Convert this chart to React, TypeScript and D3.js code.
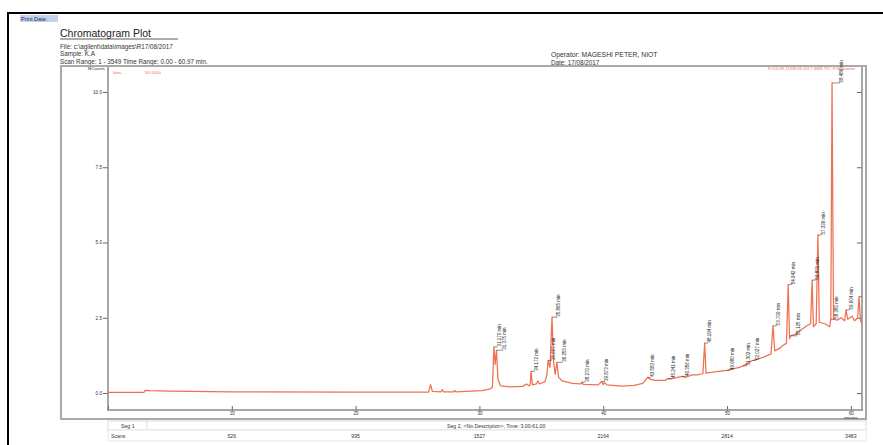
import React, {useEffect, useRef} from 'react'
import * as d3 from 'd3'

// TIC trace, time in minutes / intensity in MCounts
const traceTimes = [
  0, 2.9, 3.0, 3.4, 5, 10, 20, 25.9, 26.05, 26.2, 26.9, 27.0, 27.1, 27.9, 28.0,
  28.1, 30.2, 30.9, 31.05, 31.17, 31.27, 31.375, 31.5, 31.7, 32.5, 33.5, 33.8,
  34.0, 34.1, 34.17, 34.28, 34.6, 34.72, 34.85, 35.3, 35.45, 35.55, 35.7, 35.86,
  36.0, 36.12, 36.25, 36.4, 36.7, 37.5, 38.2, 38.27, 38.4, 39.6, 39.87, 40.0,
  40.1, 40.3, 41.5, 42.5, 43.2, 43.58, 43.8, 44.2, 45.0, 45.24, 45.5, 46.36,
  46.6, 47.2, 47.6, 48.05, 48.19, 48.3, 49.0, 49.98, 50.2, 51.0, 51.3, 52.03,
  52.3, 53.0, 53.55, 53.71, 53.85, 54.3, 54.5, 54.8, 54.94, 55.05, 55.13, 55.5,
  56.0, 56.5, 56.75, 56.87, 56.98, 57.2, 57.34, 57.45, 57.9, 58.1, 58.3, 58.38,
  58.48, 58.6, 58.9, 59.2, 59.5, 59.61, 59.75, 60.1, 60.3, 60.55, 60.66, 60.78,
  60.9,
]
const traceCounts = [
  0.02, 0.02, 0.09, 0.08, 0.06, 0.04, 0.03, 0.03, 0.28, 0.05, 0.04, 0.11, 0.04,
  0.04, 0.09, 0.04, 0.08, 0.14, 0.2, 1.53, 0.95, 1.42, 0.45, 0.24, 0.2, 0.22,
  0.3, 0.24, 0.28, 0.72, 0.27, 0.3, 0.4, 0.3, 0.38, 0.6, 1.08, 0.85, 2.52, 1.0,
  0.62, 1.02, 0.52, 0.4, 0.32, 0.3, 0.36, 0.29, 0.27, 0.38, 0.28, 0.34, 0.27,
  0.23, 0.25, 0.32, 0.52, 0.45, 0.42, 0.42, 0.48, 0.47, 0.55, 0.52, 0.6, 0.6,
  0.64, 1.66, 0.66, 0.7, 0.75, 0.78, 0.85, 0.9, 1.08, 1.1, 1.2, 1.3, 2.23, 1.4,
  1.5, 1.58, 1.65, 3.6, 1.8, 1.9, 1.95, 2.1, 2.25, 2.3, 3.75, 2.2, 2.3, 5.25,
  2.35, 2.3, 2.25, 2.2, 2.45, 10.3, 2.45, 2.42, 2.5, 2.4, 2.76, 2.45, 2.55, 2.4,
  2.5, 3.2, 2.4, 2.3,
]

// labelled peaks
const peakTimes = [
  31.17, 31.375, 34.17, 35.55, 35.86, 36.25, 38.27, 39.87, 43.58, 45.24, 46.36,
  48.19, 49.98, 51.3, 52.03, 53.71, 54.94, 55.13, 56.87, 57.34, 58.38, 58.48,
  59.61, 60.66,
]
const peakNames = [
  '31.170 min', '31.375 min', '34.172 min', '35.607 min', '35.865 min',
  '36.250 min', '38.270 min', '39.873 min', '43.583 min', '45.241 min',
  '46.356 min', '48.194 min', '49.980 min', '51.302 min', '52.027 min',
  '53.709 min', '54.942 min', '55.125 min', '56.871 min', '57.339 min',
  '58.380 min', '58.486 min', '59.604 min', '60.650 min',
]

const yTickValues = [0, 2.5, 5, 7.5, 10]
const xTickValues = [10, 20, 30, 40, 50, 60]
const scanLabels = ['526', '995', '1527', '2164', '2814', '3483']

const W = 883
const H = 445
const FONT = '"Liberation Sans", Arial, sans-serif'
const RED = '#f0704f'

function App() {
  const ref: any = useRef<SVGSVGElement>(null)

  useEffect(() => {
    const svg = d3.select(ref.current)
    svg.selectAll('*').remove()
    svg.style('font-family', FONT)

    const top = 67
    const bottom = 410
    const x = d3.scaleLinear().domain([0, 60.9]).range([108, 862])
    const y = d3.scaleLinear().domain([0, 10]).range([393, 92])

    // page border
    svg.append('line').attr('x1', 8).attr('x2', W).attr('y1', 13).attr('y2', 13)
      .attr('stroke', '#000').attr('stroke-width', 2)
    svg.append('line').attr('x1', 8).attr('x2', 8).attr('y1', 12).attr('y2', H)
      .attr('stroke', '#000').attr('stroke-width', 2)

    // header
    svg.append('rect').attr('x', 20).attr('y', 15).attr('width', 38).attr('height', 7)
      .attr('fill', '#c3d2ec')
    svg.append('text').attr('x', 21).attr('y', 20.5).attr('font-size', 5.6)
      .attr('fill', '#1a2a55').text('Print Date:')
    svg.append('text').attr('x', 60).attr('y', 37).attr('font-size', 10.5)
      .attr('fill', '#222').text('Chromatogram Plot')
    svg.append('line').attr('x1', 60).attr('x2', 178).attr('y1', 39).attr('y2', 39)
      .attr('stroke', '#333').attr('stroke-width', 0.8)
    const info = [
      'File: c:\\agilent\\data\\images\\R17/08/2017',
      'Sample: K.A',
      'Scan Range: 1 - 3549 Time Range: 0.00 - 60.97 min.',
    ]
    info.forEach((t, i) => {
      svg.append('text').attr('x', 60).attr('y', [49, 55.5, 63.5][i])
        .attr('font-size', 6.3).attr('fill', '#333').text(t)
    })
    svg.append('text').attr('x', 551).attr('y', 57).attr('font-size', 6.8)
      .attr('fill', '#333').text('Operator: MAGESHI PETER, NIOT')
    svg.append('text').attr('x', 551).attr('y', 64.5).attr('font-size', 6.3)
      .attr('fill', '#333').text('Date: 17/08/2017')

    // plot frame
    svg.append('rect').attr('x', 61).attr('y', 66).attr('width', 805).attr('height', 353)
      .attr('fill', 'none').attr('stroke', '#a9a9a9').attr('stroke-width', 2)

    // left axis
    const minorY = d3.range(-0.5, 10.8, 0.25).filter(v => v % 2.5 !== 0)
    const gl = svg.append('g').attr('transform', 'translate(108,0)')
    gl.call(d3.axisLeft(y).tickValues(minorY).tickSize(2).tickFormat(() => '') as any)
    gl.call(d3.axisLeft(y).tickValues(yTickValues).tickSize(5).tickPadding(1)
      .tickFormat(d3.format('.1f')) as any)
    gl.selectAll('.domain').remove()
    gl.selectAll('line').attr('stroke', '#666')
    gl.selectAll('text').attr('font-size', 4.6).attr('fill', '#333').attr('font-family', FONT)
    svg.append('line').attr('x1', 108).attr('x2', 108).attr('y1', top).attr('y2', bottom)
      .attr('stroke', '#8a8a8a').attr('stroke-width', 1.5)
    svg.append('text').attr('x', 105).attr('y', 70).attr('text-anchor', 'end')
      .attr('font-size', 4.3).attr('fill', '#333').text('MCounts')

    // right axis
    const gr = svg.append('g').attr('transform', 'translate(862,0)')
    gr.call(d3.axisLeft(y).tickValues(minorY).tickSize(2).tickFormat(() => '') as any)
    gr.call(d3.axisLeft(y).tickValues(yTickValues).tickSize(5).tickFormat(() => '') as any)
    gr.selectAll('.domain').remove()
    gr.selectAll('line').attr('stroke', '#666')
    svg.append('line').attr('x1', 862).attr('x2', 862).attr('y1', top).attr('y2', bottom)
      .attr('stroke', '#8a8a8a').attr('stroke-width', 1.5)

    // bottom axis
    const minorX = d3.range(0, 61, 1).filter(v => v % 10 !== 0)
    const gb = svg.append('g').attr('transform', `translate(0,${bottom})`)
    gb.call(d3.axisTop(x).tickValues(minorX).tickSize(2).tickFormat(() => '') as any)
    gb.call(d3.axisTop(x).tickValues([0, ...xTickValues]).tickSize(4).tickFormat(() => '') as any)
    const gb2 = svg.append('g').attr('transform', `translate(0,${bottom})`)
    gb2.call(d3.axisBottom(x).tickValues(xTickValues).tickSize(1.5).tickPadding(0.5)
      .tickFormat(d3.format('d')) as any)
    svg.selectAll('.domain').remove()
    gb.selectAll('line').attr('stroke', '#666')
    gb2.selectAll('line').attr('stroke', '#666')
    gb2.selectAll('text').attr('font-size', 4.5).attr('fill', '#333').attr('font-family', FONT)
    svg.append('line').attr('x1', 107).attr('x2', 863).attr('y1', bottom).attr('y2', bottom)
      .attr('stroke', '#8a8a8a').attr('stroke-width', 1.5)
    svg.append('text').attr('x', x(60)).attr('y', 418.5).attr('text-anchor', 'middle')
      .attr('font-size', 3.8).attr('fill', '#333').text('minutes')

    // legend texts in red
    svg.append('text').attr('x', 113).attr('y', 74).attr('font-size', 4.4)
      .attr('fill', RED).text('Ions...')
    svg.append('text').attr('x', 145).attr('y', 74).attr('font-size', 4.4)
      .attr('fill', RED).text('50:1000')
    svg.append('text').attr('x', 855).attr('y', 70).attr('text-anchor', 'end')
      .attr('font-size', 4.2).attr('fill', RED).text('F:\\13-09-21\\08-08-2017.SMS  TIC: F:\\Filename')

    // clip
    svg.append('defs').append('clipPath').attr('id', 'plotclip').append('rect')
      .attr('x', 108).attr('y', 60).attr('width', 754).attr('height', bottom - 60)

    const plot = svg.append('g').attr('clip-path', 'url(#plotclip)')
    const pts: [number, number][] = traceTimes.map((t, i) => [t, traceCounts[i]])
    const line = d3.line<[number, number]>().x(d => x(d[0])).y(d => y(d[1]))
    plot.append('path').datum(pts).attr('d', line as any).attr('fill', 'none')
      .attr('stroke', RED).attr('stroke-width', 1.25).attr('stroke-linejoin', 'round')

    // peak labels, pushed right when they would overlap the previous one
    let lastX = -100
    peakTimes.forEach((t, i) => {
      const j = d3.minIndex(traceTimes, tt => Math.abs(tt - t))
      const px = x(traceTimes[j])
      const py = y(traceCounts[j])
      const lx = Math.max(px + 3.5, lastX + 5.5)
      lastX = lx
      plot.append('line').attr('x1', px).attr('x2', lx).attr('y1', py).attr('y2', py)
        .attr('stroke', '#444').attr('stroke-width', 0.6)
      plot.append('text')
        .attr('transform', `translate(${lx + 3.2},${py - 0.5}) rotate(-90)`)
        .attr('font-size', 4.5).attr('fill', '#1a1a1a').text(peakNames[i])
    })

    // segment + scans rows
    svg.append('rect').attr('x', 108).attr('y', 421).attr('width', 758).attr('height', 9)
      .attr('fill', '#fff').attr('stroke', '#dcdcdc').attr('stroke-width', 1)
    svg.append('line').attr('x1', 147).attr('x2', 147).attr('y1', 421).attr('y2', 430)
      .attr('stroke', '#dcdcdc')
    svg.append('text').attr('x', 121).attr('y', 427.5).attr('font-size', 5.2)
      .attr('fill', '#333').text('Seg 1')
    svg.append('text').attr('x', 447).attr('y', 427.5).attr('font-size', 5.2)
      .attr('fill', '#333').text('Seg 2, <No Description>, Time: 3.00-61.00')
    svg.append('rect').attr('x', 108).attr('y', 430).attr('width', 758).attr('height', 11)
      .attr('fill', '#fff').attr('stroke', '#e6e6e6').attr('stroke-width', 1)
    svg.append('text').attr('x', 111).attr('y', 437.5).attr('font-size', 5.2)
      .attr('fill', '#333').text('Scans')
    xTickValues.forEach((t, i) => {
      svg.append('text').attr('x', x(t)).attr('y', 437.5).attr('text-anchor', 'middle')
        .attr('font-size', 5.2).attr('fill', '#333').text(scanLabels[i])
    })
  }, [])

  return (
    <svg
      ref={ref}
      width={W}
      height={H}
      style={{position: 'absolute', left: 0, top: 0, background: '#fff'}}
    />
  )
}

export default App
